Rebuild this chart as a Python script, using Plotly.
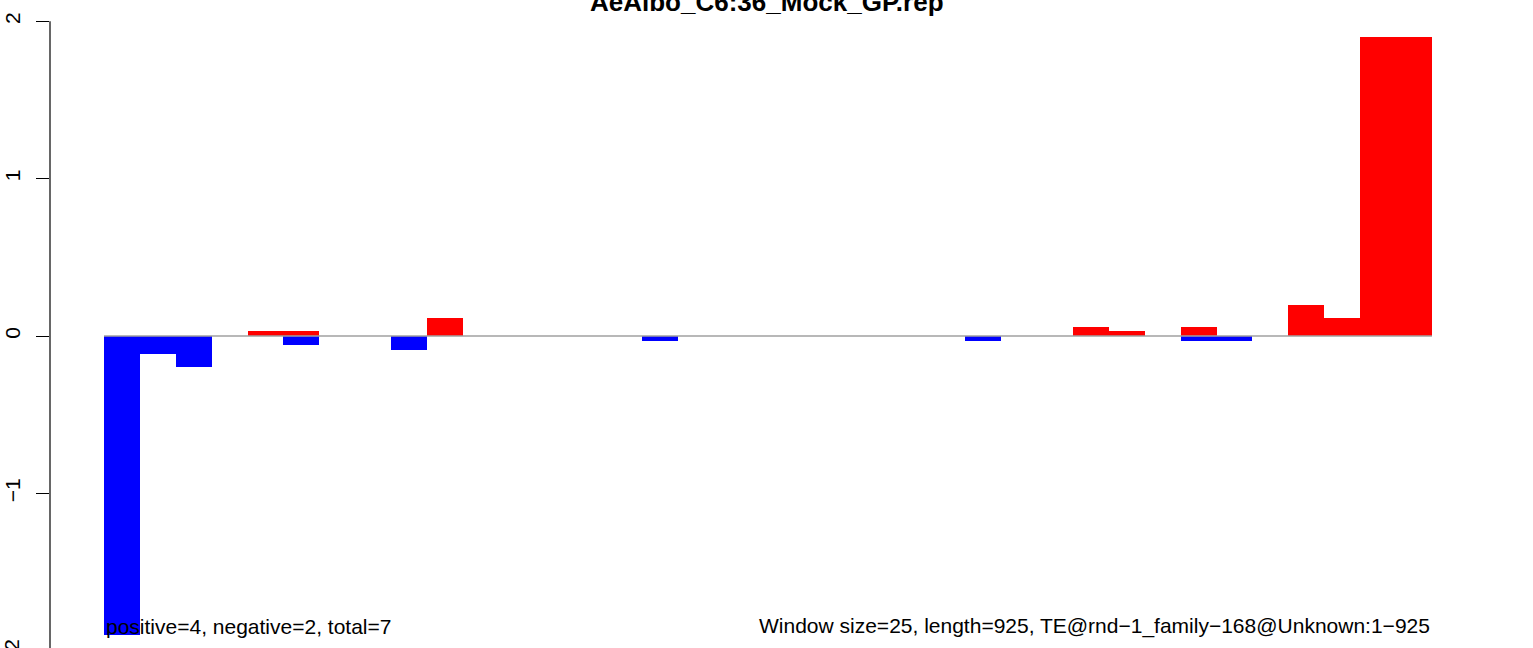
import plotly.graph_objects as go

# ---- data ----
n_windows = 37
window_index = list(range(n_windows))
positive_vals = [0, 0, 0, 0, 0.029, 0.029, 0, 0, 0, 0.114,
                 0, 0, 0, 0, 0, 0, 0, 0, 0, 0,
                 0, 0, 0, 0, 0, 0, 0, 0.057, 0.029, 0,
                 0.057, 0, 0, 0.2, 0.114, 1.9, 1.9]
negative_vals = [-1.9, -0.114, -0.2, 0, 0, -0.057, 0, 0, -0.086, 0,
                 0, 0, 0, 0, 0, -0.032, 0, 0, 0, 0,
                 0, 0, 0, 0, -0.032, 0, 0, 0, 0, 0,
                 -0.032, -0.032, 0, 0, 0, 0, 0]
y_ticks = [-1, 0, 1, 2]
title_text = "AeAlbo_C6:36_Mock_GP.rep"
left_note = "positive=4, negative=2, total=7"
right_note = "Window size=25, length=925, TE@rnd\u22121_family\u2212168@Unknown:1\u2212925"

FONT = "Liberation Sans, Arial, Helvetica, sans-serif"

fig = go.Figure()
fig.add_trace(go.Bar(x=window_index, y=positive_vals, width=1,
                     marker=dict(color="#ff0000", line=dict(width=0)),
                     hoverinfo="skip"))
fig.add_trace(go.Bar(x=window_index, y=negative_vals, width=1,
                     marker=dict(color="#0000ff", line=dict(width=0)),
                     hoverinfo="skip"))

# zero line
fig.add_shape(type="line", xref="x", yref="y", x0=-0.5, x1=n_windows - 0.5,
              y0=0, y1=0, line=dict(color="#a0a0a0", width=1.5), layer="above")
# y axis line between -2 and 2
fig.add_shape(type="line", xref="paper", yref="y", x0=0, x1=0, y0=-2, y1=2,
              line=dict(color="black", width=1.2))

# title (cut off at top, as in the reference)
fig.add_annotation(text="<b>" + title_text + "</b>", xref="paper", yref="paper",
                   x=(767 - 50) / 1483, y=1 - 19 / 648, xanchor="center", yanchor="bottom",
                   showarrow=False, font=dict(family=FONT, size=26, color="black"))
fig.add_annotation(text=left_note, xref="x", yref="paper", x=-0.5, y=1 - 626 / 648,
                   xanchor="left", yanchor="middle", showarrow=False,
                   font=dict(family=FONT, size=21, color="black"))
fig.add_annotation(text=right_note, xref="x", yref="paper", x=n_windows - 0.5, y=1 - 626 / 648,
                   xanchor="right", yanchor="middle", showarrow=False,
                   font=dict(family=FONT, size=21, color="black"))
# partial -2 tick label at the bottom edge
fig.add_annotation(text="\u22122", xref="paper", yref="paper", x=0, y=1 - 651 / 648,
                   xanchor="center", yanchor="middle", textangle=-90, showarrow=False,
                   xshift=-38, font=dict(family=FONT, size=21, color="black"))

px_per_bar = 35.89
x0 = -0.5 - (104 - 50) / px_per_bar
x1 = x0 + 1483 / px_per_bar
fig.update_layout(
    width=1533, height=648,
    margin=dict(l=50, r=0, t=0, b=0, autoexpand=False),
    plot_bgcolor="white", paper_bgcolor="white",
    barmode="overlay", bargap=0, showlegend=False,
    xaxis=dict(range=[x0, x1], visible=False, automargin=False),
    yaxis=dict(range=[-312 / 157.4, 336 / 157.4], tickvals=y_ticks,
               ticks="outside", ticklen=13, tickwidth=1.2, tickcolor="black",
               tickangle=-90, ticklabelstandoff=8, automargin=False,
               tickfont=dict(family=FONT, size=21, color="black"),
               showgrid=False, zeroline=False, showline=False),
)
fig.write_html("out.html", config={"displayModeBar": False},
               post_script="document.body.style.margin='0px';")
